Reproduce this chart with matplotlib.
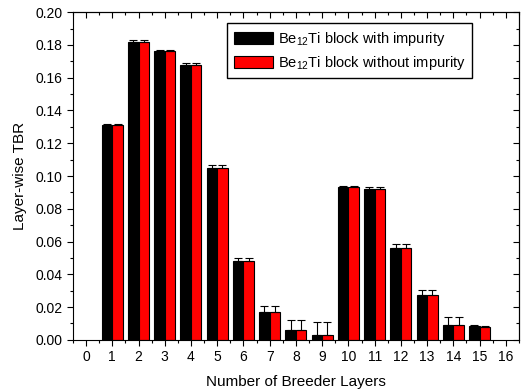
import numpy as np
import matplotlib.pyplot as plt
from matplotlib.ticker import MultipleLocator

plt.rcParams['font.family'] = ['Liberation Sans', 'DejaVu Sans']
plt.rcParams['mathtext.fontset'] = 'custom'
plt.rcParams['mathtext.rm'] = 'Liberation Sans'

layers = [1, 2, 3, 4, 5, 6, 7, 8, 9, 10, 11, 12, 13, 14, 15]
with_imp = [0.131, 0.182, 0.176, 0.168, 0.105, 0.048, 0.0173, 0.0063, 0.0032,
            0.093, 0.092, 0.0563, 0.0272, 0.0091, 0.0083]
with_err = [0.0008, 0.0008, 0.0008, 0.0010, 0.0015, 0.0020, 0.0036, 0.0059, 0.0080,
            0.0010, 0.0010, 0.0020, 0.0031, 0.0051, 0.0005]
without_imp = [0.131, 0.182, 0.176, 0.168, 0.105, 0.048, 0.0173, 0.0063, 0.0032,
               0.093, 0.092, 0.0563, 0.0272, 0.0091, 0.0081]
without_err = [0.0008, 0.0008, 0.0008, 0.0010, 0.0015, 0.0020, 0.0036, 0.0059, 0.0080,
               0.0010, 0.0010, 0.0020, 0.0031, 0.0051, 0.0005]

x = np.array(layers)
w = 0.4

fig = plt.figure(figsize=(5.21, 3.92), dpi=100)
ax = fig.add_axes([0.140, 0.133, 0.856, 0.836])

ax.bar(x - w / 2, with_imp, w, color='black', edgecolor='black', linewidth=0.8,
       label=r'Be$_{12}$Ti block with impurity')
ax.bar(x + w / 2, without_imp, w, color='red', edgecolor='black', linewidth=0.8,
       label=r'Be$_{12}$Ti block without impurity')
ax.errorbar(x - w / 2, with_imp, yerr=[np.zeros(len(x)), with_err], fmt='none',
            ecolor='black', elinewidth=0.8, capsize=3, capthick=0.8)
ax.errorbar(x + w / 2, without_imp, yerr=[np.zeros(len(x)), without_err], fmt='none',
            ecolor='black', elinewidth=0.8, capsize=3, capthick=0.8)

ax.set_xlim(-0.5, 16.5)
ax.set_ylim(0, 0.2)
ax.xaxis.set_major_locator(MultipleLocator(1))
ax.xaxis.set_minor_locator(MultipleLocator(0.5))
ax.yaxis.set_major_locator(MultipleLocator(0.02))
ax.yaxis.set_minor_locator(MultipleLocator(0.01))
ax.yaxis.set_major_formatter(plt.FuncFormatter(lambda v, p: f'{v:.2f}'))
ax.tick_params(which='both', direction='out', labelsize=10, width=0.8)
ax.tick_params(which='major', length=4)
ax.tick_params(which='minor', length=2)

# mirrored ticks on top/right pointing inward
top = ax.secondary_xaxis('top')
top.xaxis.set_major_locator(MultipleLocator(1))
top.xaxis.set_minor_locator(MultipleLocator(0.5))
top.tick_params(which='both', direction='in', labeltop=False, width=0.8)
top.tick_params(which='major', length=4)
top.tick_params(which='minor', length=2)
right = ax.secondary_yaxis('right')
right.yaxis.set_major_locator(MultipleLocator(0.02))
right.yaxis.set_minor_locator(MultipleLocator(0.01))
right.tick_params(which='both', direction='in', labelright=False, width=0.8)
right.tick_params(which='major', length=4)
right.tick_params(which='minor', length=2)
for a in (ax, top, right):
    for s in a.spines.values():
        s.set_linewidth(0.8)

ax.set_xlabel('Number of Breeder Layers', fontsize=11, labelpad=8)
ax.set_ylabel('Layer-wise TBR', fontsize=11, labelpad=6)
ax.legend(loc='upper right', bbox_to_anchor=(0.895, 0.966), borderaxespad=0,
          fontsize=10.5, fancybox=False, edgecolor='black', framealpha=1,
          handlelength=2.7, handleheight=0.9, borderpad=0.45, labelspacing=0.4,
          handletextpad=0.3)

plt.savefig('out.png', dpi=100)
